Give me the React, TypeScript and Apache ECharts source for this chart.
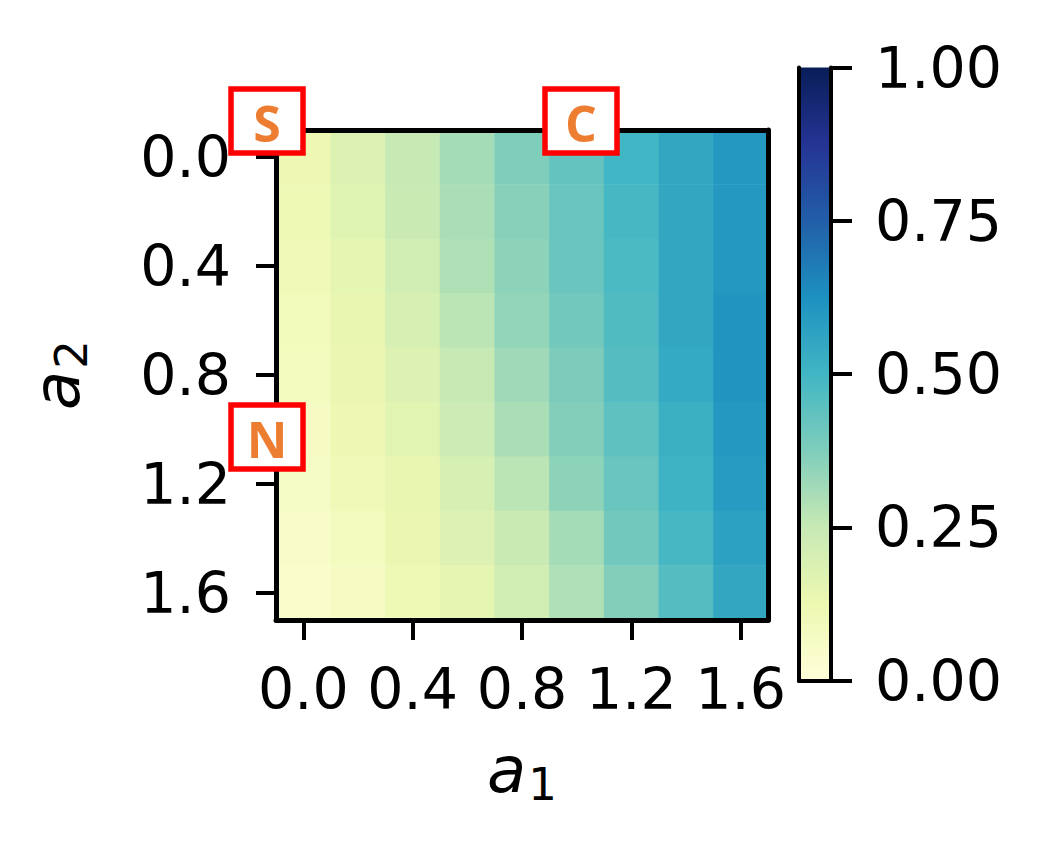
import React, { useEffect, useRef } from "react";
import * as echarts from "echarts";

// categories (cell centres)
const a1Categories = ["0.0", "0.2", "0.4", "0.6", "0.8", "1.0", "1.2", "1.4", "1.6"];
const a2Categories = ["0.0", "0.2", "0.4", "0.6", "0.8", "1.0", "1.2", "1.4", "1.6"];

// values per a2 row (left to right = a1 0.0 .. 1.6)
const rowA2_00 = [0.12, 0.18, 0.25, 0.31, 0.375, 0.43, 0.5, 0.55, 0.6];
const rowA2_02 = [0.11, 0.17, 0.24, 0.3, 0.36, 0.42, 0.49, 0.55, 0.6];
const rowA2_04 = [0.1, 0.15, 0.22, 0.29, 0.35, 0.42, 0.48, 0.55, 0.6];
const rowA2_06 = [0.09, 0.14, 0.2, 0.27, 0.34, 0.4, 0.47, 0.55, 0.61];
const rowA2_08 = [0.08, 0.13, 0.18, 0.25, 0.32, 0.38, 0.46, 0.54, 0.61];
const rowA2_10 = [0.07, 0.12, 0.16, 0.23, 0.3, 0.37, 0.44, 0.52, 0.6];
const rowA2_12 = [0.06, 0.1, 0.14, 0.2, 0.27, 0.35, 0.42, 0.51, 0.59];
const rowA2_14 = [0.05, 0.08, 0.13, 0.18, 0.24, 0.31, 0.4, 0.49, 0.57];
const rowA2_16 = [0.04, 0.07, 0.11, 0.15, 0.22, 0.29, 0.37, 0.46, 0.55];
const rows = [rowA2_00, rowA2_02, rowA2_04, rowA2_06, rowA2_08, rowA2_10, rowA2_12, rowA2_14, rowA2_16];

// colour bar
const colorMin = 0;
const colorMax = 1;
const colorInterval = 0.25;
const ylGnBu = ["#ffffd9", "#edf8b1", "#c7e9b4", "#7fcdbb", "#41b6c4", "#1d91c0", "#225ea8", "#253494", "#081d58"];

// annotation letters
const annotationLetters = ["S", "C", "N"];

const FONT = "DejaVu Sans";
const SPINE = 5;
const LINE = { show: true, lineStyle: { color: "#000", width: SPINE } };
const HIDDEN = { axisTick: { show: false }, axisLabel: { show: false }, splitLine: { show: false } };

export default function App() {
  const ref = useRef<HTMLDivElement>(null);
  useEffect(() => {
    if (!ref.current) return;
    const chart = echarts.init(ref.current, undefined, { renderer: "svg" });
    const data: number[][] = [];
    rows.forEach((row, yi) => row.forEach((v, xi) => data.push([xi, yi, v])));

    const nameRich = {
      a: { fontFamily: FONT, fontStyle: "italic", fontSize: 64, color: "#000" },
      s: { fontFamily: FONT, fontSize: 45, color: "#000", padding: [30, 0, 0, 2] },
    };

    const stops = ylGnBu.map((c, i) => ({ offset: i / (ylGnBu.length - 1), color: c }));

    const box = (letter: string, x: number, y: number) => ({
      type: "group",
      x,
      y,
      z: 100,
      children: [
        {
          type: "rect",
          z: 100,
          shape: { x: 0, y: 0, width: 72, height: 64 },
          style: { fill: "#fff", stroke: "#ff0000", lineWidth: 5.5 },
        },
        {
          type: "text",
          z: 101,
          x: 36,
          y: 34,
          style: {
            text: letter,
            fill: "#ED7D31",
            fontFamily: "Open Sans",
            fontWeight: "bold",
            fontSize: 50,
            align: "center",
            verticalAlign: "middle",
          },
        },
      ],
    });

    chart.setOption({
      animation: false,
      backgroundColor: "#fff",
      grid: [
        { left: 276, top: 130, width: 492, height: 490 },
        { left: 799, top: 67.5, width: 32, height: 613 },
      ],
      xAxis: [
        {
          type: "category",
          gridIndex: 0,
          data: a1Categories,
          position: "bottom",
          z: 10,
          axisLine: LINE,
          axisTick: { show: true, alignWithLabel: true, interval: 1, length: 20, lineStyle: { color: "#000", width: 4 } },
          axisLabel: { interval: 1, fontFamily: FONT, fontSize: 57, color: "#000", margin: 40 },
          splitLine: { show: false },
          name: "{a|a}{s|1}",
          nameLocation: "middle",
          nameGap: 112,
          nameTextStyle: { rich: nameRich },
        },
        { type: "category", gridIndex: 0, data: a1Categories, position: "top", z: 10, axisLine: LINE, ...HIDDEN },
        { type: "category", gridIndex: 1, data: ["cb"], position: "bottom", z: 10, axisLine: { show: true, lineStyle: { color: "#000", width: 4 } }, ...HIDDEN },
        { type: "category", gridIndex: 1, data: ["cb"], position: "top", z: 10, axisLine: { show: true, lineStyle: { color: "#000", width: 4 } }, ...HIDDEN },
      ],
      yAxis: [
        {
          type: "category",
          gridIndex: 0,
          data: a2Categories,
          inverse: true,
          position: "left",
          z: 10,
          axisLine: LINE,
          axisTick: { show: true, alignWithLabel: true, interval: 1, length: 20, lineStyle: { color: "#000", width: 4 } },
          axisLabel: { interval: 1, fontFamily: FONT, fontSize: 57, color: "#000", margin: 45, padding: [7, 0, 0, 0] },
          splitLine: { show: false },
          name: "{a|a}{s|2}",
          nameLocation: "middle",
          nameGap: 182,
          nameTextStyle: { rich: nameRich },
        },
        { type: "category", gridIndex: 0, data: a2Categories, inverse: true, position: "right", z: 10, axisLine: LINE, ...HIDDEN },
        {
          type: "value",
          gridIndex: 1,
          min: colorMin,
          max: colorMax,
          interval: colorInterval,
          position: "right",
          z: 10,
          axisLine: { show: true, lineStyle: { color: "#000", width: 4 } },
          axisTick: { show: true, inside: false, length: 21, lineStyle: { color: "#000", width: 4 } },
          axisLabel: {
            fontFamily: FONT,
            fontSize: 57,
            color: "#000",
            margin: 44,
            padding: [8, 0, 0, 0],
            formatter: (v: number) => v.toFixed(2),
          },
          splitLine: { show: false },
        },
        {
          type: "value",
          gridIndex: 1,
          min: colorMin,
          max: colorMax,
          position: "left",
          z: 10,
          axisLine: { show: true, lineStyle: { color: "#000", width: 4 } },
          ...HIDDEN,
        },
      ],
      visualMap: {
        type: "continuous",
        show: false,
        min: colorMin,
        max: colorMax,
        seriesIndex: 0,
        inRange: { color: ylGnBu },
      },
      series: [
        {
          type: "heatmap",
          xAxisIndex: 0,
          yAxisIndex: 0,
          data,
          itemStyle: { borderWidth: 0 },
          emphasis: { disabled: true },
        },
        {
          type: "bar",
          xAxisIndex: 2,
          yAxisIndex: 2,
          data: [colorMax],
          barWidth: "100%",
          silent: true,
          itemStyle: { color: new echarts.graphic.LinearGradient(0, 1, 0, 0, stops) },
        },
      ],
      graphic: [box(annotationLetters[0], 231, 89), box(annotationLetters[1], 545, 89), box(annotationLetters[2], 231, 405)],
    });
    return () => chart.dispose();
  }, []);
  return <div ref={ref} style={{ position: "absolute", left: 0, top: 0, width: 1053, height: 858 }} />;
}
